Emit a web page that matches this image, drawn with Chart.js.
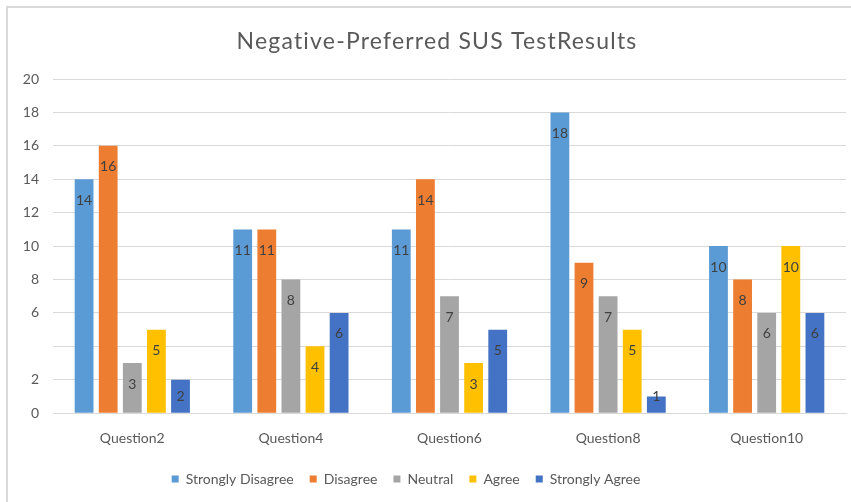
<!DOCTYPE html>
<html><head><meta charset="utf-8">
<script src="https://cdn.jsdelivr.net/npm/chart.js@4/dist/chart.umd.min.js"></script>
<style>
html,body{margin:0;padding:0;background:#fff;}
#wrap{position:absolute;left:0;top:0;width:851px;height:502px;}
#frame{position:absolute;left:6px;top:6px;width:845px;height:496px;border-left:2px solid #d9d9d9;border-top:2px solid #d9d9d9;}
canvas{position:absolute;left:0;top:0;}
</style></head>
<body>
<div id="wrap"><div id="frame"></div><canvas id="c" width="851" height="502"></canvas></div>
<script>
const titleText = 'Negative-Preferred SUS TestResults';
const categories = ['Question2','Question4','Question6','Question8','Question10'];
const seriesNames = ['Strongly Disagree','Disagree','Neutral','Agree','Strongly Agree'];
const stronglyDisagree = [14, 11, 11, 18, 10];
const disagree = [16, 11, 14, 9, 8];
const neutral = [3, 8, 7, 7, 6];
const agree = [5, 4, 3, 5, 10];
const stronglyAgree = [2, 6, 5, 1, 6];
const yTicks = [0, 2, 4, 6, 8, 10, 12, 14, 16, 18, 20];
const colors = ['#5B9BD5','#ED7D31','#A5A5A5','#FFC000','#4472C4'];
const values = [stronglyDisagree, disagree, neutral, agree, stronglyAgree];

const FONT = 'Lato, "Open Sans", sans-serif';

const labelPlugin = {
  id: 'barLabels',
  afterDatasetsDraw(chart) {
    const ctx = chart.ctx;
    const yScale = chart.scales.y;
    const base = yScale.getPixelForValue(0);
    ctx.save();
    ctx.font = '14px ' + FONT;
    ctx.fillStyle = '#404040';
    ctx.textAlign = 'center';
    ctx.textBaseline = 'middle';
    chart.data.datasets.forEach((ds, i) => {
      chart.getDatasetMeta(i).data.forEach((bar, j) => {
        const y = Math.min(bar.y + 21, base - 17);
        ctx.fillText(String(ds.data[j]), bar.x, y);
      });
    });
    ctx.restore();
  }
};

const titlePlugin = {
  id: 'spacedTitle',
  afterDraw(chart) {
    const ctx = chart.ctx;
    ctx.save();
    ctx.font = '23px ' + FONT;
    if ('letterSpacing' in ctx) ctx.letterSpacing = '1.2px';
    ctx.fillStyle = '#595959';
    ctx.textAlign = 'center';
    ctx.textBaseline = 'middle';
    ctx.fillText(titleText, 437, 42);
    ctx.restore();
  }
};

const legendShift = {
  id: 'legendShift',
  afterLayout(chart) {
    if (chart.legend) {
      chart.legend.left -= 22;
      chart.legend.right -= 22;
    }
  }
};

new Chart(document.getElementById('c'), {
  type: 'bar',
  data: {
    labels: categories,
    datasets: seriesNames.map((n, i) => ({
      label: n,
      data: values[i],
      backgroundColor: colors[i],
      borderWidth: 0,
      categoryPercentage: 0.76,
      barPercentage: 0.78
    }))
  },
  options: {
    responsive: false,
    animation: false,
    layout: { padding: { left: 10, right: 5, top: 79, bottom: 6 } },
    plugins: {
      title: { display: false },
      legend: {
        position: 'bottom',
        labels: {
          color: '#595959',
          font: { family: FONT, size: 14 },
          boxWidth: 7,
          boxHeight: 7,
          padding: 16
        }
      },
      tooltip: { enabled: false }
    },
    scales: {
      x: {
        grid: { display: false },
        border: { color: '#d9d9d9' },
        ticks: { color: '#595959', font: { family: FONT, size: 14 }, padding: 9 }
      },
      y: {
        min: 0,
        max: 20,
        afterBuildTicks(axis) { axis.ticks = yTicks.map(v => ({ value: v })); },
        afterFit(axis) { axis.width = 43; },
        grid: { color: '#d9d9d9', drawTicks: false },
        border: { display: false },
        ticks: {
          color: '#595959',
          font: { family: FONT, size: 14 },
          padding: 14,
          callback: v => (v === 4 ? '' : String(v))
        }
      }
    }
  },
  plugins: [labelPlugin, titlePlugin, legendShift]
});
</script>
</body></html>
